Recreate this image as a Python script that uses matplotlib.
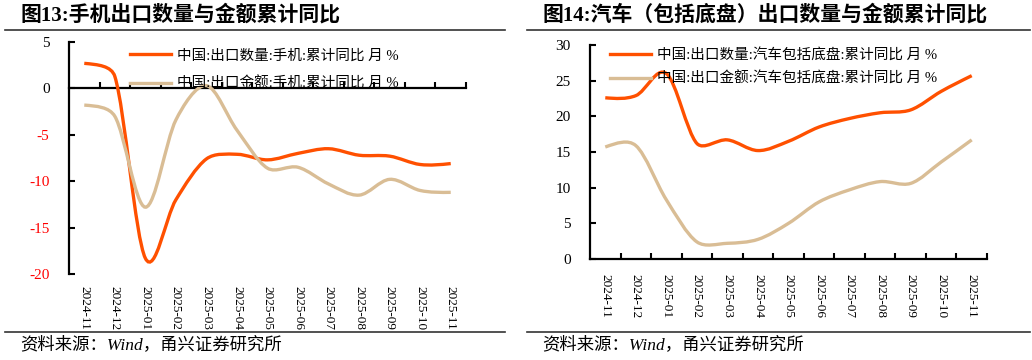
import numpy as np
import matplotlib.pyplot as plt
from matplotlib.path import Path
from matplotlib.patches import PathPatch
from matplotlib.lines import Line2D
from matplotlib.font_manager import FontProperties

# categories (months)
months = ['2024-11', '2024-12', '2025-01', '2025-02', '2025-03', '2025-04', '2025-05',
          '2025-06', '2025-07', '2025-08', '2025-09', '2025-10', '2025-11']

# fig 13: mobile phones, cumulative yoy %
phone_qty = [2.7, 1.3, -18.3, -12.0, -7.6, -7.1, -7.7, -7.0, -6.5, -7.2, -7.3, -8.2, -8.1]
phone_val = [-1.8, -3.0, -12.8, -3.4, 0.3, -4.5, -8.6, -8.5, -10.3, -11.5, -9.8, -11.0, -11.2]
phone_labels = ['中国:出口数量:手机:累计同比 月 %', '中国:出口金额:手机:累计同比 月 %']

# fig 14: cars (incl. chassis), cumulative yoy %
car_qty = [22.6, 22.9, 26.0, 16.2, 16.7, 15.2, 16.5, 18.5, 19.7, 20.5, 20.9, 23.5, 25.7]
car_val = [15.7, 15.9, 8.3, 2.4, 2.2, 2.75, 5.0, 8.0, 9.7, 10.85, 10.6, 13.6, 16.7]
car_labels = ['中国:出口数量:汽车包括底盘:累计同比 月 %', '中国:出口金额:汽车包括底盘:累计同比 月 %']

ORANGE = '#FF5000'
TAN = '#D9BD95'
SERIF_CJK = ['Liberation Serif', 'Noto Sans CJK SC']

plt.rcParams['font.family'] = SERIF_CJK
plt.rcParams['axes.unicode_minus'] = False


def smooth_path(ax, xs, ys):
  """excel style smoothed line: bezier segments through every point,
  control arms shortened next to short segments so nothing overshoots"""
  pts = ax.transData.transform(np.column_stack([xs, ys]).astype(float))
  n = len(pts)
  before = [None] * n
  after = [None] * n
  for i in range(1, n - 1):
    t = pts[i + 1] - pts[i - 1]
    tlen = np.hypot(*t)
    t = t / tlen
    arm_b = min(tlen / 6, np.hypot(*(pts[i] - pts[i - 1])) / 3)
    arm_a = min(tlen / 6, np.hypot(*(pts[i + 1] - pts[i])) / 3)
    before[i] = pts[i] - t * arm_b
    after[i] = pts[i] + t * arm_a
  after[0] = pts[0] + (before[1] - pts[0]) * 0.5
  before[n - 1] = pts[n - 1] + (after[n - 2] - pts[n - 1]) * 0.5
  verts = [pts[0]]
  codes = [Path.MOVETO]
  for i in range(n - 1):
    verts += [after[i], before[i + 1], pts[i + 1]]
    codes += [Path.CURVE4] * 3
  verts = ax.transData.inverted().transform(np.array(verts))
  return Path(verts, codes)


def draw_panel(ax, series, labels, ylim, ystep, label_pad, red_neg, leg_anchor, leg_spacing):
  x = np.arange(len(months))
  ax.set_xlim(-0.5, len(months) - 0.5)
  ax.set_ylim(*ylim)
  ax.set_yticks(np.arange(ylim[0], ylim[1] + 1, ystep))

  colors = [ORANGE, TAN]
  handles = []
  for data, col, lab in zip(series, colors, labels):
    ax.add_patch(PathPatch(smooth_path(ax, x, data), fill=False, edgecolor=col,
                           lw=2.4, zorder=3))
    handles.append(Line2D([], [], color=col, lw=2.4, label=lab))

  for s in ['top', 'right']:
    ax.spines[s].set_visible(False)
  ax.spines['bottom'].set_position(('data', 0))
  for s in ['left', 'bottom']:
    ax.spines[s].set_linewidth(1.6)

  # tick marks at category boundaries, no labels on the zero line
  ax.set_xticks(np.arange(0.5, len(months), 1.0))
  ax.set_xticklabels([])
  ax.tick_params(axis='x', direction='in', length=4, width=1.5)
  ax.tick_params(axis='y', direction='in', length=4, width=1.5, labelsize=11, pad=14)
  for lbl in ax.get_yticklabels():
    lbl.set_fontfamily('Liberation Serif')
  if red_neg:
    for t, lbl in zip(ax.get_yticks(), ax.get_yticklabels()):
      if t < 0:
        lbl.set_color('#FF0000')

  # month labels at the bottom of the plot area
  sec = ax.secondary_xaxis('bottom')
  sec.set_xticks(x)
  sec.set_xticklabels(months, rotation=270, fontsize=9.5, fontfamily='Liberation Serif')
  sec.tick_params(length=0, pad=label_pad)
  sec.spines['bottom'].set_visible(False)

  ax.legend(handles=handles, loc='upper left', bbox_to_anchor=leg_anchor, frameon=False,
            prop=FontProperties(family=SERIF_CJK, size=10.5), handlelength=2.8,
            handletextpad=0.4, borderpad=0, borderaxespad=0, labelspacing=leg_spacing)


fig = plt.figure(figsize=(10.32, 3.6), dpi=100)
W, H = 1032, 360

ax1 = fig.add_axes([69 / W, 1 - 274 / H, 397 / W, 232 / H])
draw_panel(ax1, [phone_qty, phone_val], phone_labels, (-20, 5), 5, 9, True,
           ((130 - 69) / 397, (274 - 49) / 232), 1.0)

ax2 = fig.add_axes([590 / W, 1 - 259 / H, 397 / W, 214 / H])
draw_panel(ax2, [car_qty, car_val], car_labels, (0, 30), 5, 11, False,
           ((610 - 590) / 397, (259 - 48) / 214), 0.7)

# titles, rules and source notes
title_font = FontProperties(family=SERIF_CJK, size=15, weight='bold')
fig.text(20 / W, 1 - 15 / H, '图13:手机出口数量与金额累计同比', fontproperties=title_font,
         ha='left', va='center')
fig.text(542 / W, 1 - 15 / H, '图14:汽车（包括底盘）出口数量与金额累计同比', fontproperties=title_font,
         ha='left', va='center')

for x0, x1 in [(5, 505), (527, 1030)]:
  for yy in [29.5, 332]:
    fig.add_artist(Line2D([x0 / W, x1 / W], [1 - yy / H, 1 - yy / H], color='#333333', lw=1.2))

src_font = FontProperties(family=SERIF_CJK, size=12.5, style='italic')
fig.text(20 / W, 1 - 345 / H, '资料来源：Wind，甬兴证券研究所', fontproperties=src_font,
         ha='left', va='center')
fig.text(542 / W, 1 - 345 / H, '资料来源：Wind，甬兴证券研究所', fontproperties=src_font,
         ha='left', va='center')

fig.savefig('out.png', dpi=100)
